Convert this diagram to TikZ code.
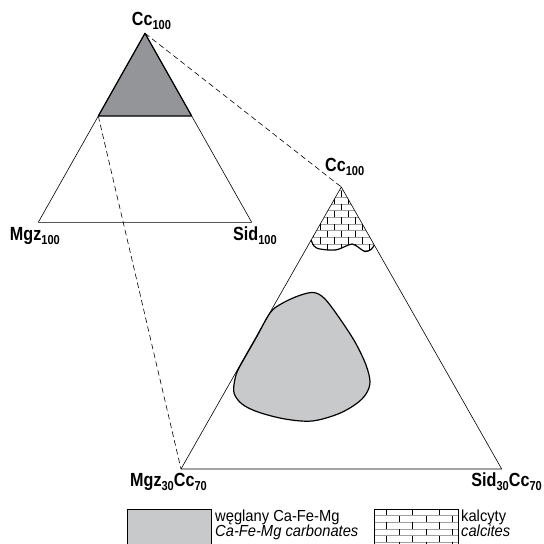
\documentclass[tikz,border=0pt]{standalone}
\usepackage{fontspec}
\setmainfont{Liberation Sans}
\newfontfamily\lblfont[FakeStretch=0.85]{Liberation Sans}
\newfontfamily\legfont[FakeStretch=0.92]{Liberation Sans}
\definecolor{capgray}{HTML}{939598}
\definecolor{fieldgray}{HTML}{C8C9CB}
\newcommand\vsub[1]{\raisebox{-0.22em}{\fontsize{13}{13}\selectfont #1}}
\begin{document}
\begin{tikzpicture}[x=1pt,y=-1pt,
  tri/.style={line width=0.6pt, line join=round},
  dashln/.style={dash pattern=on 5.5pt off 3.5pt, line width=0.6pt},
  thickout/.style={line width=1.2pt, line join=round},
  lbl/.style={font=\lblfont\bfseries\fontsize{19}{19}\selectfont, inner sep=0pt},
  leg/.style={font=\legfont\fontsize{16}{16}\selectfont, inner sep=0pt, anchor=base west},
  brickh/.style={line width=0.7pt, gray!75},
  brickv/.style={line width=0.45pt, black}]
\useasboundingbox (0,0) rectangle (544,544);

% small ternary diagram Cc - Mgz - Sid
\coordinate (A1) at (145,33.3);
\coordinate (L1) at (38.3,222.3);
\coordinate (R1) at (251.7,222.3);
\coordinate (P1) at (98.3,116);
\coordinate (Q1) at (191.7,116);

% enlarged calcite-rich corner
\coordinate (A2) at (341.3,187);
\coordinate (L2) at (181,469);
\coordinate (R2) at (501.7,469);

\fill[capgray] (A1) -- (P1) -- (Q1) -- cycle;
\draw[tri] (A1) -- (L1) -- (R1) -- cycle;
\draw[thickout] (A1) -- (P1) -- (Q1) -- cycle;

% projection lines
\draw[dashln] (A1) -- (A2);
\draw[dashln] (P1) -- (L2);

% Ca-Fe-Mg carbonate field
\draw[thickout, fill=fieldgray] plot[smooth cycle, tension=0.55] coordinates {
  (313,292.5) (324,298) (338,316) (355,342) (366,365) (370,382) (366,394)
  (356,404) (338,414) (312,421) (285,419) (258,412) (242,404) (234,393)
  (235,379) (239,368) (256,338) (270,313) (281,304) (298,296)};

% calcite field with brick hatching
\begin{scope}
  \clip (A2) -- plot[smooth, tension=0.6] coordinates {
    (311.2,240) (314,246) (320,249) (335,250) (345,246.5) (352,244) (358,247)
    (365,251.5) (371,249.5) (374.3,245)} -- cycle;
  \foreach \k in {0,...,9} {
    \pgfmathsetmacro\yt{190.6+6.67*\k}
    \pgfmathsetmacro\yb{\yt+6.67}
    \pgfmathsetmacro\off{mod(\k,2)*7}
    \draw[brickh] (300,\yt) -- (390,\yt);
    \foreach \m in {0,...,6}
      \draw[brickv] (299+14*\m+\off,\yt) -- (299+14*\m+\off,\yb);
  }
\end{scope}
\draw[tri] (A2) -- (L2) -- (R2) -- cycle;
\draw[thickout] plot[smooth, tension=0.6] coordinates {
    (311.2,240) (314,246) (320,249) (335,250) (345,246.5) (352,244) (358,247)
    (365,251.5) (371,249.5) (374.3,245)};

% vertex labels
\node[lbl, anchor=base west] (cctop) at (131.7,25) {Cc\vsub{100}};
\node[lbl, anchor=base east] (mgz) at (60,240) {Mgz\vsub{100}};
\node[lbl, anchor=base west] (sid) at (233,240) {Sid\vsub{100}};
\node[lbl, anchor=base west] (ccbig) at (325,171) {Cc\vsub{100}};
\node[lbl, anchor=base west] (mgzcc) at (130,486) {Mgz\vsub{30}Cc\vsub{70}};
\node[lbl, anchor=base east] (sidcc) at (542,486) {Sid\vsub{30}Cc\vsub{70}};

% legend
\draw[line width=0.8pt, fill=fieldgray] (127,509) rectangle (211,547);
\node[leg] (legcarb) at (215,521.7) {węglany Ca-Fe-Mg};
\node[leg] (legcarben) at (215,536.7) {\itshape Ca-Fe-Mg carbonates};

\begin{scope}
  \clip (374,509) rectangle (458,547);
  \foreach \k in {0,...,5} {
    \pgfmathsetmacro\yt{509+6.67*\k}
    \pgfmathsetmacro\yb{\yt+6.67}
    \pgfmathsetmacro\off{mod(\k,2)*13.33}
    \draw[brickh] (370,\yt) -- (462,\yt);
    \foreach \m in {0,...,4}
      \draw[brickv] (359.3+26.67*\m+\off,\yt) -- (359.3+26.67*\m+\off,\yb);
  }
\end{scope}
\draw[line width=0.8pt] (374,509) rectangle (458,547);
\node[leg] (legcalc) at (461,521.7) {kalcyty};
\node[leg] (legcalcen) at (461,536.7) {\itshape calcites};
\end{tikzpicture}
\end{document}
